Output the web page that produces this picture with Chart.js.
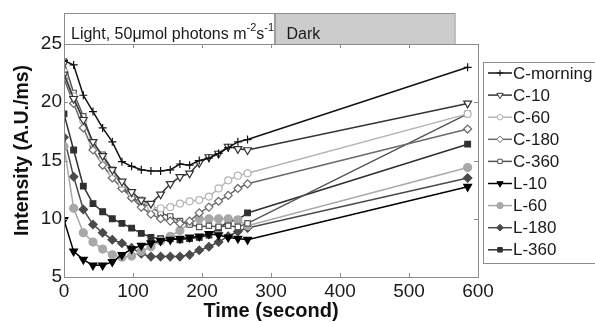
<!DOCTYPE html>
<html>
<head>
<meta charset="utf-8">
<script src="https://cdn.jsdelivr.net/npm/chart.js@4"></script>
<style>
  html, body { margin: 0; padding: 0; background: #fff; }
  #wrap { width: 595px; height: 322px; position: relative; }
</style>
</head>
<body>
<div id="wrap"><canvas id="chart"></canvas></div>
<script>
// time points (s) and series values (A.U./ms)
const times = [0, 14, 28, 42, 56, 70, 84, 98, 112, 126, 140, 154, 168, 182, 196, 210, 224, 238, 252, 266, 585];

const cMorning = [23.6, 23.2, 20.6, 19.2, 17.8, 16.6, 14.9, 14.5, 14.2, 14.1, 14.1, 14.2, 14.7, 14.6, 15.0, 15.2, 15.6, 16.1, 16.6, 16.8, 23.0];
const c10  = [22.4, 20.3, 18.5, 16.6, 15.4, 14.2, 13.2, 12.3, 11.6, 11.3, 12.1, 13.0, 13.6, 13.9, 14.8, 15.3, 15.6, 16.2, 16.0, 15.9, 19.9];
const c60  = [22.6, 20.5, 18.4, 16.5, 15.2, 14.0, 13.0, 12.2, 11.6, 11.0, 10.9, 11.0, 11.3, 11.5, 11.6, 11.9, 12.6, 13.3, 13.7, 13.9, 19.0];
const c180 = [22.0, 19.9, 17.8, 15.9, 14.6, 13.5, 12.6, 11.8, 11.0, 10.4, 10.0, 9.8, 9.6, 9.8, 10.5, 11.0, 11.5, 12.0, 12.6, 13.0, 17.7];
const c360 = [23.5, 20.8, 18.8, 16.3, 15.5, 14.2, 12.8, 11.9, 11.3, 11.0, 10.5, 10.2, 9.8, 9.5, 9.3, 9.4, 9.3, 9.4, 9.3, 9.6, 19.0];
const l10  = [9.9, 7.2, 6.5, 6.0, 6.0, 6.3, 6.9, 7.4, 7.7, 7.9, 8.1, 8.2, 8.3, 8.4, 8.5, 8.7, 8.6, 8.4, 8.3, 8.2, 12.75];
const l60  = [16.2, 10.9, 8.8, 8.0, 7.4, 6.9, 6.7, 6.8, 7.2, 7.6, 8.1, 8.5, 9.0, 9.6, 10.0, 10.0, 10.0, 10.0, 9.9, 9.4, 14.4];
const l180 = [17.0, 13.6, 10.8, 9.5, 8.8, 8.2, 7.9, 7.5, 7.0, 6.75, 6.75, 6.75, 6.75, 6.9, 7.3, 7.6, 8.0, 8.5, 8.9, 9.2, 13.5];
const l360 = [19.0, 15.9, 12.8, 11.3, 10.6, 10.0, 9.6, 9.2, 8.75, 8.4, 8.3, 8.3, 8.2, 8.3, 8.4, 8.6, 9.2, 9.75, 9.9, 10.5, 16.4];

const seriesNames = ['C-morning', 'C-10', 'C-60', 'C-180', 'C-360', 'L-10', 'L-60', 'L-180', 'L-360'];
const seriesValues = [cMorning, c10, c60, c180, c360, l10, l60, l180, l360];

const xTicks = [0, 100, 200, 300, 400, 500, 600];
const yTicks = [5, 10, 15, 20, 25];

// marker styles (MATLAB-ish)
const styles = [
  { color: '#111111', fill: '#111111', point: 'cross',    r: 4,   rot: 0 },
  { color: '#333333', fill: '#ffffff', point: 'triangle', r: 4.5, rot: 180 },
  { color: '#b4b4b4', fill: '#ffffff', point: 'circle',   r: 3.5, rot: 0 },
  { color: '#6a6a6a', fill: '#ffffff', point: 'rectRot',  r: 4,   rot: 0 },
  { color: '#555555', fill: '#ffffff', point: 'rect',     r: 3.8, rot: 0 },
  { color: '#000000', fill: '#000000', point: 'triangle', r: 4.5, rot: 180 },
  { color: '#a8a8a8', fill: '#a8a8a8', point: 'circle',   r: 4,   rot: 0 },
  { color: '#4a4a4a', fill: '#4a4a4a', point: 'rectRot',  r: 4.2, rot: 0 },
  { color: '#303030', fill: '#303030', point: 'rect',     r: 4,   rot: 0 }
];

const FONT = '"Liberation Sans", Arial, sans-serif';
const AXIS_GREY = '#8c8c8c';

const datasets = seriesNames.map((name, i) => ({
  label: name,
  data: times.map((t, j) => ({ x: t, y: seriesValues[i][j] })),
  borderColor: styles[i].color,
  backgroundColor: styles[i].fill,
  pointBorderColor: styles[i].color,
  pointBackgroundColor: styles[i].fill,
  pointStyle: styles[i].point,
  pointRadius: styles[i].r,
  pointRotation: styles[i].rot,
  pointBorderWidth: 1.2,
  borderWidth: 1.5,
  tension: 0
}));

const decorations = {
  id: 'decorations',
  afterDraw(chart) {
    const ctx = chart.ctx;
    const xs = chart.scales.x, ys = chart.scales.y;
    const a = chart.chartArea;
    ctx.save();

    // axes box
    ctx.strokeStyle = AXIS_GREY;
    ctx.lineWidth = 1;
    ctx.strokeRect(a.left + 0.5, a.top + 0.5, a.right - a.left, a.bottom - a.top);

    // inner ticks
    ctx.beginPath();
    xTicks.forEach(v => {
      const px = Math.round(xs.getPixelForValue(v)) + 0.5;
      ctx.moveTo(px, a.bottom); ctx.lineTo(px, a.bottom - 4);
      ctx.moveTo(px, a.top); ctx.lineTo(px, a.top + 4);
    });
    yTicks.forEach(v => {
      const py = Math.round(ys.getPixelForValue(v)) + 0.5;
      ctx.moveTo(a.left, py); ctx.lineTo(a.left + 4, py);
      ctx.moveTo(a.right, py); ctx.lineTo(a.right - 4, py);
    });
    ctx.stroke();

    // light / dark header
    const hTop = 13, hBot = a.top;
    const lightEnd = xs.getPixelForValue(305);
    const darkEnd = xs.getPixelForValue(566);
    ctx.fillStyle = '#ffffff';
    ctx.fillRect(a.left, hTop, lightEnd - a.left, hBot - hTop);
    ctx.fillStyle = '#cccccc';
    ctx.fillRect(lightEnd, hTop, darkEnd - lightEnd, hBot - hTop);
    ctx.strokeStyle = AXIS_GREY;
    ctx.strokeRect(a.left + 0.5, hTop + 0.5, lightEnd - a.left, hBot - hTop);
    ctx.strokeRect(lightEnd + 0.5, hTop + 0.5, darkEnd - lightEnd, hBot - hTop);

    ctx.fillStyle = '#1a1a1a';
    ctx.textBaseline = 'alphabetic';
    ctx.textAlign = 'left';
    let tx = a.left + 7;
    const ty = 39;
    const parts = [['Light, 50\u03bcmol photons m', 0], ['-2', 1], ['s', 0], ['-1', 1]];
    parts.forEach(([s, sup]) => {
      ctx.font = (sup ? '11px ' : '16px ') + FONT;
      ctx.fillText(s, tx, sup ? ty - 8 : ty);
      tx += ctx.measureText(s).width;
    });
    ctx.font = '16px ' + FONT;
    ctx.fillText('Dark', lightEnd + 12, ty);

    // axis titles
    ctx.fillStyle = '#111111';
    ctx.font = 'bold 20px ' + FONT;
    ctx.textAlign = 'center';
    ctx.textBaseline = 'middle';
    ctx.fillText('Time (second)', (a.left + a.right) / 2, 311);
    ctx.save();
    ctx.translate(23, (a.top + a.bottom) / 2 - 10);
    ctx.rotate(-Math.PI / 2);
    ctx.font = 'bold 19.5px ' + FONT;
    ctx.fillText('Intensity (A.U./ms)', 0, 0);
    ctx.restore();

    // legend
    const lx = 483, lTop = 62, lBot = 263;
    ctx.fillStyle = '#ffffff';
    ctx.fillRect(lx, lTop, 595 - lx + 5, lBot - lTop);
    ctx.strokeStyle = AXIS_GREY;
    ctx.strokeRect(lx + 0.5, lTop + 0.5, 595 - lx + 5, lBot - lTop);
    ctx.font = '17px ' + FONT;
    ctx.textAlign = 'left';
    ctx.textBaseline = 'middle';
    chart.data.datasets.forEach((ds, i) => {
      const y = 73 + i * 22.1;
      ctx.strokeStyle = ds.borderColor;
      ctx.lineWidth = 1.5;
      ctx.beginPath();
      ctx.moveTo(488, y); ctx.lineTo(512, y);
      ctx.stroke();
      ctx.lineWidth = 1;
      ctx.strokeStyle = ds.pointBorderColor;
      ctx.fillStyle = ds.pointBackgroundColor;
      Chart.helpers.drawPoint(ctx, {
        pointStyle: ds.pointStyle,
        radius: ds.pointRadius * 0.8,
        rotation: ds.pointRotation,
        borderWidth: 1
      }, 500, y);
      ctx.fillStyle = '#1a1a1a';
      ctx.fillText(ds.label, 513, y + 1);
    });

    ctx.restore();
  }
};

new Chart(document.getElementById('chart'), {
  type: 'line',
  data: { datasets },
  options: {
    responsive: true,
    maintainAspectRatio: false,
    animation: false,
    layout: { padding: { top: 44, right: 117, left: 0, bottom: 0 } },
    plugins: { legend: { display: false }, tooltip: { enabled: false } },
    scales: {
      x: {
        type: 'linear',
        min: 0, max: 600,
        afterFit(s) { s.height = 45; },
        afterBuildTicks(s) { s.ticks = xTicks.map(v => ({ value: v })); },
        grid: { display: false, drawTicks: false },
        border: { display: false },
        ticks: { color: '#1a1a1a', font: { family: FONT, size: 19 }, padding: 3, maxRotation: 0 }
      },
      y: {
        type: 'linear',
        min: 5, max: 25,
        afterFit(s) { s.width = 64; },
        afterBuildTicks(s) { s.ticks = yTicks.map(v => ({ value: v })); },
        grid: { display: false, drawTicks: false },
        border: { display: false },
        ticks: { color: '#1a1a1a', font: { family: FONT, size: 19 }, padding: 2 }
      }
    }
  },
  plugins: [decorations]
});
</script>
</body>
</html>
